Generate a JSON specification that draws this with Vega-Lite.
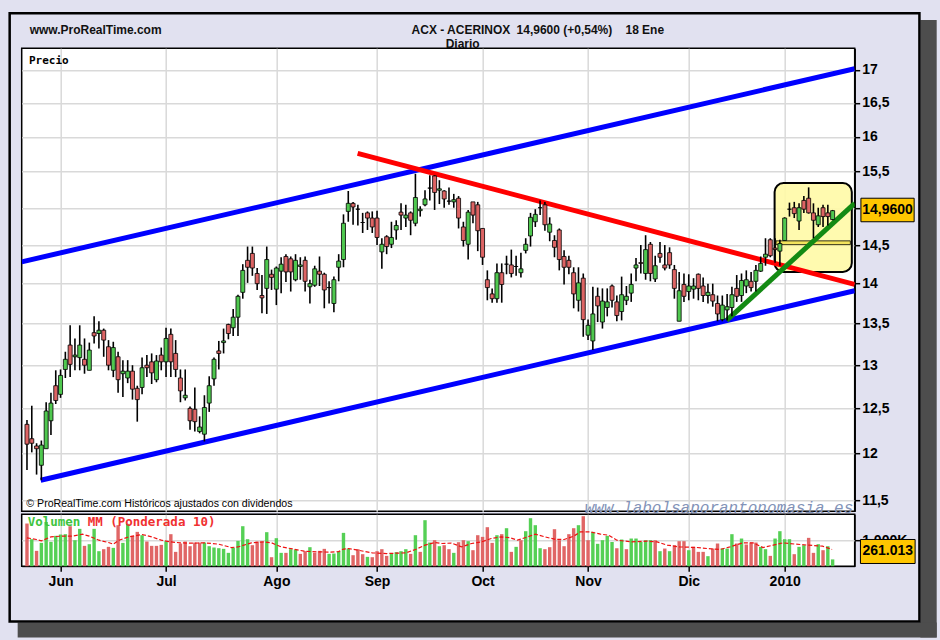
{
  "$schema": "https://vega.github.io/schema/vega-lite/v6.json",
  "autosize": {"type": "pad"},
  "padding": {"left": 6.7, "top": 11.2, "right": 5, "bottom": 3.5},
  "background": "#e1e1f0",
  "bounds": "flush",
  "spacing": 3,
  "datasets": {
    "candles": [
      {"i":0,"o":12.32,"h":12.37,"l":11.82,"c":12.10,"v":1641,"vd":"down"},
      {"i":1,"o":12.16,"h":12.53,"l":12.01,"c":12.11,"v":1038,"vd":"up"},
      {"i":2,"o":12.08,"h":12.11,"l":11.77,"c":12.05,"v":590,"vd":"down"},
      {"i":3,"o":11.87,"h":12.14,"l":11.71,"c":12.09,"v":897,"vd":"up"},
      {"i":4,"o":12.05,"h":12.57,"l":12.05,"c":12.47,"v":1700,"vd":"up"},
      {"i":5,"o":12.36,"h":12.68,"l":12.20,"c":12.56,"v":936,"vd":"up"},
      {"i":6,"o":12.76,"h":12.94,"l":12.55,"c":12.59,"v":1167,"vd":"up"},
      {"i":7,"o":12.66,"h":12.95,"l":12.62,"c":12.88,"v":1218,"vd":"up"},
      {"i":8,"o":12.95,"h":13.16,"l":12.85,"c":13.07,"v":1231,"vd":"up"},
      {"i":9,"o":13.24,"h":13.48,"l":12.86,"c":13.01,"v":1538,"vd":"down"},
      {"i":10,"o":13.10,"h":13.32,"l":12.94,"c":13.12,"v":1000,"vd":"up"},
      {"i":11,"o":13.09,"h":13.48,"l":12.94,"c":13.24,"v":1436,"vd":"up"},
      {"i":12,"o":13.07,"h":13.32,"l":12.90,"c":13.00,"v":782,"vd":"down"},
      {"i":13,"o":12.94,"h":13.27,"l":12.94,"c":13.18,"v":846,"vd":"up"},
      {"i":14,"o":13.39,"h":13.59,"l":13.26,"c":13.35,"v":1436,"vd":"up"},
      {"i":15,"o":13.38,"h":13.53,"l":13.20,"c":13.42,"v":577,"vd":"up"},
      {"i":16,"o":13.42,"h":13.44,"l":13.10,"c":13.30,"v":654,"vd":"down"},
      {"i":17,"o":13.22,"h":13.30,"l":12.94,"c":13.00,"v":744,"vd":"down"},
      {"i":18,"o":12.94,"h":13.28,"l":12.86,"c":13.21,"v":705,"vd":"up"},
      {"i":19,"o":13.10,"h":13.16,"l":12.68,"c":12.83,"v":1577,"vd":"down"},
      {"i":20,"o":12.90,"h":13.06,"l":12.63,"c":12.93,"v":897,"vd":"up"},
      {"i":21,"o":12.85,"h":13.06,"l":12.79,"c":12.93,"v":1628,"vd":"up"},
      {"i":22,"o":12.93,"h":13.00,"l":12.60,"c":12.72,"v":1167,"vd":"down"},
      {"i":23,"o":12.73,"h":12.76,"l":12.35,"c":12.60,"v":1320,"vd":"down"},
      {"i":24,"o":12.74,"h":13.09,"l":12.66,"c":12.97,"v":1192,"vd":"up"},
      {"i":25,"o":13.00,"h":13.12,"l":12.86,"c":12.97,"v":949,"vd":"down"},
      {"i":26,"o":13.04,"h":13.14,"l":12.78,"c":12.91,"v":782,"vd":"down"},
      {"i":27,"o":12.83,"h":13.12,"l":12.80,"c":13.05,"v":782,"vd":"down"},
      {"i":28,"o":13.12,"h":13.21,"l":12.94,"c":13.04,"v":820,"vd":"down"},
      {"i":29,"o":13.04,"h":13.45,"l":12.86,"c":13.32,"v":962,"vd":"up"},
      {"i":30,"o":13.37,"h":13.44,"l":12.86,"c":13.04,"v":1231,"vd":"down"},
      {"i":31,"o":13.14,"h":13.30,"l":12.86,"c":12.95,"v":551,"vd":"down"},
      {"i":32,"o":12.85,"h":12.95,"l":12.57,"c":12.70,"v":872,"vd":"down"},
      {"i":33,"o":12.62,"h":12.95,"l":12.59,"c":12.65,"v":949,"vd":"down"},
      {"i":34,"o":12.50,"h":12.52,"l":12.26,"c":12.36,"v":769,"vd":"down"},
      {"i":35,"o":12.49,"h":12.74,"l":12.24,"c":12.35,"v":910,"vd":"down"},
      {"i":36,"o":12.24,"h":12.41,"l":12.22,"c":12.29,"v":910,"vd":"down"},
      {"i":37,"o":12.21,"h":12.65,"l":12.13,"c":12.51,"v":910,"vd":"up"},
      {"i":38,"o":12.56,"h":12.87,"l":12.46,"c":12.76,"v":769,"vd":"up"},
      {"i":39,"o":12.84,"h":13.09,"l":12.76,"c":13.07,"v":718,"vd":"up"},
      {"i":40,"o":13.17,"h":13.29,"l":12.95,"c":13.14,"v":692,"vd":"up"},
      {"i":41,"o":13.27,"h":13.44,"l":13.14,"c":13.29,"v":667,"vd":"up"},
      {"i":42,"o":13.49,"h":13.50,"l":13.31,"c":13.38,"v":513,"vd":"up"},
      {"i":43,"o":13.45,"h":13.68,"l":13.35,"c":13.58,"v":705,"vd":"up"},
      {"i":44,"o":13.58,"h":13.86,"l":13.35,"c":13.84,"v":974,"vd":"up"},
      {"i":45,"o":13.89,"h":14.25,"l":13.81,"c":14.17,"v":1538,"vd":"up"},
      {"i":46,"o":14.30,"h":14.48,"l":14.01,"c":14.21,"v":1038,"vd":"up"},
      {"i":47,"o":14.39,"h":14.48,"l":14.10,"c":14.20,"v":808,"vd":"down"},
      {"i":48,"o":14.13,"h":14.20,"l":13.92,"c":14.00,"v":949,"vd":"down"},
      {"i":49,"o":13.85,"h":14.11,"l":13.63,"c":13.82,"v":949,"vd":"down"},
      {"i":50,"o":13.94,"h":14.48,"l":13.62,"c":14.31,"v":1308,"vd":"up"},
      {"i":51,"o":14.12,"h":14.18,"l":13.92,"c":14.08,"v":346,"vd":"down"},
      {"i":52,"o":13.93,"h":14.22,"l":13.73,"c":14.20,"v":1077,"vd":"up"},
      {"i":53,"o":14.16,"h":14.34,"l":13.88,"c":14.25,"v":513,"vd":"up"},
      {"i":54,"o":14.35,"h":14.38,"l":14.02,"c":14.15,"v":513,"vd":"down"},
      {"i":55,"o":14.32,"h":14.35,"l":13.90,"c":14.15,"v":654,"vd":"up"},
      {"i":56,"o":14.05,"h":14.38,"l":14.03,"c":14.30,"v":641,"vd":"up"},
      {"i":57,"o":14.22,"h":14.34,"l":14.05,"c":14.24,"v":474,"vd":"down"},
      {"i":58,"o":14.30,"h":14.35,"l":13.90,"c":14.03,"v":577,"vd":"down"},
      {"i":59,"o":13.96,"h":14.05,"l":13.75,"c":14.00,"v":731,"vd":"up"},
      {"i":60,"o":13.98,"h":14.23,"l":13.96,"c":14.19,"v":513,"vd":"down"},
      {"i":61,"o":14.16,"h":14.35,"l":13.97,"c":14.12,"v":590,"vd":"down"},
      {"i":62,"o":14.12,"h":14.14,"l":13.69,"c":13.92,"v":667,"vd":"down"},
      {"i":63,"o":13.95,"h":14.03,"l":13.75,"c":13.95,"v":474,"vd":"up"},
      {"i":64,"o":13.75,"h":14.09,"l":13.64,"c":14.05,"v":487,"vd":"up"},
      {"i":65,"o":14.21,"h":14.38,"l":14.03,"c":14.29,"v":577,"vd":"up"},
      {"i":66,"o":14.31,"h":14.91,"l":14.21,"c":14.79,"v":1282,"vd":"up"},
      {"i":67,"o":14.95,"h":15.23,"l":14.81,"c":15.06,"v":679,"vd":"up"},
      {"i":68,"o":15.06,"h":15.08,"l":14.77,"c":15.01,"v":423,"vd":"down"},
      {"i":69,"o":14.98,"h":15.04,"l":14.76,"c":14.98,"v":654,"vd":"down"},
      {"i":70,"o":14.80,"h":14.93,"l":14.66,"c":14.80,"v":462,"vd":"down"},
      {"i":71,"o":14.93,"h":14.95,"l":14.70,"c":14.86,"v":359,"vd":"up"},
      {"i":72,"o":14.86,"h":14.95,"l":14.66,"c":14.74,"v":346,"vd":"down"},
      {"i":73,"o":14.86,"h":14.96,"l":14.50,"c":14.60,"v":577,"vd":"down"},
      {"i":74,"o":14.41,"h":14.59,"l":14.19,"c":14.51,"v":654,"vd":"down"},
      {"i":75,"o":14.61,"h":14.63,"l":14.38,"c":14.48,"v":397,"vd":"down"},
      {"i":76,"o":14.51,"h":14.81,"l":14.46,"c":14.60,"v":500,"vd":"up"},
      {"i":77,"o":14.70,"h":14.83,"l":14.57,"c":14.76,"v":538,"vd":"up"},
      {"i":78,"o":14.94,"h":15.06,"l":14.70,"c":14.90,"v":577,"vd":"up"},
      {"i":79,"o":14.86,"h":15.04,"l":14.74,"c":14.90,"v":654,"vd":"up"},
      {"i":80,"o":14.93,"h":14.95,"l":14.63,"c":14.83,"v":474,"vd":"down"},
      {"i":81,"o":14.79,"h":15.47,"l":14.75,"c":15.14,"v":1192,"vd":"up"},
      {"i":82,"o":14.96,"h":15.02,"l":14.88,"c":14.98,"v":551,"vd":"down"},
      {"i":83,"o":15.04,"h":15.24,"l":15.02,"c":15.12,"v":1769,"vd":"up"},
      {"i":84,"o":15.27,"h":15.45,"l":15.10,"c":15.27,"v":910,"vd":"up"},
      {"i":85,"o":15.44,"h":15.45,"l":14.97,"c":15.21,"v":1000,"vd":"down"},
      {"i":86,"o":15.24,"h":15.38,"l":15.05,"c":15.26,"v":769,"vd":"up"},
      {"i":87,"o":15.23,"h":15.24,"l":15.00,"c":15.12,"v":808,"vd":"down"},
      {"i":88,"o":15.09,"h":15.28,"l":15.04,"c":15.09,"v":654,"vd":"down"},
      {"i":89,"o":15.08,"h":15.19,"l":15.00,"c":15.11,"v":513,"vd":"up"},
      {"i":90,"o":15.13,"h":15.16,"l":14.72,"c":14.86,"v":923,"vd":"down"},
      {"i":91,"o":14.74,"h":14.81,"l":14.48,"c":14.56,"v":1000,"vd":"down"},
      {"i":92,"o":14.51,"h":14.97,"l":14.31,"c":14.94,"v":962,"vd":"up"},
      {"i":93,"o":15.08,"h":15.08,"l":14.79,"c":14.90,"v":615,"vd":"down"},
      {"i":94,"o":15.04,"h":15.08,"l":14.42,"c":14.69,"v":1192,"vd":"down"},
      {"i":95,"o":14.72,"h":14.72,"l":14.24,"c":14.34,"v":1128,"vd":"down"},
      {"i":96,"o":14.05,"h":14.17,"l":13.79,"c":13.95,"v":1500,"vd":"down"},
      {"i":97,"o":13.87,"h":13.94,"l":13.76,"c":13.81,"v":897,"vd":"down"},
      {"i":98,"o":13.81,"h":14.26,"l":13.76,"c":14.14,"v":1192,"vd":"up"},
      {"i":99,"o":14.14,"h":14.26,"l":13.76,"c":13.99,"v":1231,"vd":"down"},
      {"i":100,"o":14.25,"h":14.36,"l":14.12,"c":14.25,"v":1461,"vd":"up"},
      {"i":101,"o":14.24,"h":14.44,"l":14.08,"c":14.13,"v":551,"vd":"down"},
      {"i":102,"o":14.22,"h":14.36,"l":14.10,"c":14.22,"v":744,"vd":"up"},
      {"i":103,"o":14.14,"h":14.40,"l":14.08,"c":14.19,"v":1000,"vd":"down"},
      {"i":104,"o":14.43,"h":14.59,"l":14.39,"c":14.51,"v":1346,"vd":"up"},
      {"i":105,"o":14.62,"h":14.93,"l":14.48,"c":14.87,"v":1846,"vd":"up"},
      {"i":106,"o":14.81,"h":14.98,"l":14.74,"c":14.91,"v":1577,"vd":"up"},
      {"i":107,"o":15.00,"h":15.10,"l":14.90,"c":15.00,"v":692,"vd":"up"},
      {"i":108,"o":15.04,"h":15.08,"l":14.69,"c":14.77,"v":654,"vd":"down"},
      {"i":109,"o":14.67,"h":14.87,"l":14.55,"c":14.78,"v":731,"vd":"down"},
      {"i":110,"o":14.56,"h":14.63,"l":14.34,"c":14.47,"v":1423,"vd":"down"},
      {"i":111,"o":14.70,"h":14.72,"l":14.17,"c":14.31,"v":1000,"vd":"down"},
      {"i":112,"o":14.35,"h":14.43,"l":13.99,"c":14.21,"v":769,"vd":"down"},
      {"i":113,"o":14.30,"h":14.36,"l":14.12,"c":14.21,"v":1231,"vd":"down"},
      {"i":114,"o":14.14,"h":14.21,"l":13.69,"c":13.87,"v":1461,"vd":"down"},
      {"i":115,"o":13.79,"h":14.21,"l":13.65,"c":14.01,"v":1577,"vd":"up"},
      {"i":116,"o":14.07,"h":14.13,"l":13.34,"c":13.55,"v":1923,"vd":"down"},
      {"i":117,"o":13.36,"h":13.55,"l":13.30,"c":13.48,"v":1000,"vd":"down"},
      {"i":118,"o":13.29,"h":13.96,"l":13.18,"c":13.62,"v":1320,"vd":"up"},
      {"i":119,"o":13.84,"h":13.95,"l":13.52,"c":13.72,"v":860,"vd":"up"},
      {"i":120,"o":13.52,"h":13.94,"l":13.44,"c":13.78,"v":1000,"vd":"up"},
      {"i":121,"o":13.70,"h":13.94,"l":13.59,"c":13.77,"v":1167,"vd":"up"},
      {"i":122,"o":13.97,"h":13.99,"l":13.70,"c":13.79,"v":930,"vd":"up"},
      {"i":123,"o":13.77,"h":13.85,"l":13.53,"c":13.60,"v":690,"vd":"down"},
      {"i":124,"o":13.65,"h":14.09,"l":13.54,"c":13.86,"v":1026,"vd":"up"},
      {"i":125,"o":13.79,"h":13.97,"l":13.73,"c":13.84,"v":654,"vd":"down"},
      {"i":126,"o":13.88,"h":14.13,"l":13.77,"c":13.99,"v":1064,"vd":"up"},
      {"i":127,"o":14.20,"h":14.33,"l":14.03,"c":14.24,"v":1064,"vd":"up"},
      {"i":128,"o":14.27,"h":14.50,"l":14.13,"c":14.26,"v":936,"vd":"up"},
      {"i":129,"o":14.13,"h":14.63,"l":14.05,"c":14.44,"v":1000,"vd":"up"},
      {"i":130,"o":14.51,"h":14.54,"l":14.03,"c":14.13,"v":1000,"vd":"up"},
      {"i":131,"o":14.06,"h":14.36,"l":14.02,"c":14.23,"v":1000,"vd":"down"},
      {"i":132,"o":14.39,"h":14.54,"l":14.27,"c":14.34,"v":577,"vd":"up"},
      {"i":133,"o":14.24,"h":14.50,"l":14.17,"c":14.20,"v":679,"vd":"down"},
      {"i":134,"o":14.40,"h":14.47,"l":14.19,"c":14.24,"v":577,"vd":"up"},
      {"i":135,"o":14.18,"h":14.24,"l":13.81,"c":13.94,"v":808,"vd":"down"},
      {"i":136,"o":13.53,"h":14.15,"l":13.53,"c":13.91,"v":962,"vd":"down"},
      {"i":137,"o":13.99,"h":14.13,"l":13.77,"c":13.84,"v":962,"vd":"down"},
      {"i":138,"o":13.90,"h":14.12,"l":13.79,"c":13.97,"v":615,"vd":"up"},
      {"i":139,"o":13.93,"h":14.07,"l":13.81,"c":13.97,"v":744,"vd":"down"},
      {"i":140,"o":14.12,"h":14.13,"l":13.79,"c":13.94,"v":551,"vd":"down"},
      {"i":141,"o":13.97,"h":14.08,"l":13.77,"c":13.85,"v":551,"vd":"down"},
      {"i":142,"o":13.85,"h":14.00,"l":13.75,"c":13.89,"v":385,"vd":"up"},
      {"i":143,"o":13.86,"h":14.00,"l":13.71,"c":13.78,"v":679,"vd":"down"},
      {"i":144,"o":13.75,"h":13.85,"l":13.53,"c":13.62,"v":872,"vd":"down"},
      {"i":145,"o":13.55,"h":13.85,"l":13.53,"c":13.73,"v":679,"vd":"up"},
      {"i":146,"o":13.67,"h":13.87,"l":13.54,"c":13.71,"v":679,"vd":"up"},
      {"i":147,"o":13.70,"h":13.96,"l":13.59,"c":13.86,"v":1231,"vd":"up"},
      {"i":148,"o":13.94,"h":14.11,"l":13.77,"c":13.84,"v":872,"vd":"down"},
      {"i":149,"o":13.85,"h":14.13,"l":13.77,"c":14.04,"v":1064,"vd":"up"},
      {"i":150,"o":13.97,"h":14.17,"l":13.88,"c":14.05,"v":833,"vd":"down"},
      {"i":151,"o":14.03,"h":14.15,"l":13.90,"c":13.95,"v":910,"vd":"down"},
      {"i":152,"o":14.03,"h":14.24,"l":13.90,"c":14.17,"v":910,"vd":"down"},
      {"i":153,"o":14.16,"h":14.35,"l":14.15,"c":14.26,"v":744,"vd":"up"},
      {"i":154,"o":14.34,"h":14.59,"l":14.23,"c":14.38,"v":654,"vd":"up"},
      {"i":155,"o":14.57,"h":14.59,"l":14.34,"c":14.36,"v":397,"vd":"down"},
      {"i":156,"o":14.46,"h":14.59,"l":14.27,"c":14.44,"v":1064,"vd":"up"},
      {"i":157,"o":14.42,"h":14.57,"l":14.23,"c":14.52,"v":1346,"vd":"up"},
      {"i":158,"o":14.56,"h":14.87,"l":14.56,"c":14.86,"v":1038,"vd":"up"},
      {"i":159,"o":14.98,"h":15.07,"l":14.88,"c":14.98,"v":1038,"vd":"up"},
      {"i":160,"o":15.00,"h":15.08,"l":14.86,"c":14.92,"v":462,"vd":"down"},
      {"i":161,"o":14.82,"h":15.06,"l":14.70,"c":15.00,"v":744,"vd":"up"},
      {"i":162,"o":15.10,"h":15.16,"l":14.93,"c":14.98,"v":808,"vd":"up"},
      {"i":163,"o":15.13,"h":15.28,"l":14.92,"c":14.93,"v":1090,"vd":"down"},
      {"i":164,"o":14.93,"h":15.06,"l":14.59,"c":14.83,"v":513,"vd":"down"},
      {"i":165,"o":14.77,"h":15.00,"l":14.74,"c":14.89,"v":846,"vd":"up"},
      {"i":166,"o":15.00,"h":15.04,"l":14.74,"c":14.88,"v":615,"vd":"down"},
      {"i":167,"o":14.93,"h":15.04,"l":14.76,"c":14.88,"v":769,"vd":"up"},
      {"i":168,"o":14.84,"h":14.97,"l":14.83,"c":14.96,"v":261,"vd":"up"}
    ],
    "lines": [
      {"g":"canal sup","i":-1.1,"p":14.28},{"g":"canal sup","i":172.6,"p":17.02},
      {"g":"canal inf","i":2.86,"p":11.71},{"g":"canal inf","i":172.6,"p":13.91},
      {"g":"bajista","i":68.95,"p":15.76},{"g":"bajista","i":172.6,"p":13.99},
      {"g":"alcista","i":145.9,"p":13.54},{"g":"alcista","i":172.6,"p":15.06}
    ],
    "ma": [
      {"i":0,"m":1090},{"i":2,"m":1026},{"i":3,"m":974},{"i":5,"m":1128},{"i":7,"m":1154},
      {"i":9.5,"m":1160},{"i":11.6,"m":1230},{"i":13,"m":1154},{"i":15,"m":1000},{"i":17,"m":910},
      {"i":18,"m":846},{"i":19.2,"m":1000},{"i":21.2,"m":1128},{"i":24,"m":1218},{"i":26,"m":1128},
      {"i":28,"m":1000},{"i":30,"m":936},{"i":32,"m":897},{"i":34,"m":885},{"i":37,"m":897},
      {"i":40,"m":846},{"i":42.6,"m":718},{"i":44,"m":740},{"i":46.8,"m":897},{"i":49.5,"m":936},
      {"i":51,"m":897},{"i":53,"m":744},{"i":55.7,"m":654},{"i":57.8,"m":577},{"i":60.6,"m":551},
      {"i":63.3,"m":540},{"i":65,"m":560},{"i":66,"m":660},{"i":67,"m":680},{"i":69,"m":615},
      {"i":72,"m":513},{"i":75,"m":487},{"i":79,"m":513},{"i":81,"m":641},{"i":83,"m":808},
      {"i":85,"m":910},{"i":86.5,"m":872},{"i":88.5,"m":890},{"i":90.6,"m":744},{"i":92.7,"m":872},
      {"i":94.8,"m":936},{"i":96.8,"m":1064},{"i":98.9,"m":1128},{"i":100.6,"m":1100},{"i":102.3,"m":1000},
      {"i":104.4,"m":1128},{"i":106,"m":1231},{"i":108,"m":1128},{"i":110,"m":1038},{"i":112,"m":1026},
      {"i":114,"m":1154},{"i":115.4,"m":1320},{"i":117.5,"m":1320},{"i":119.6,"m":1231},{"i":121.3,"m":1192},
      {"i":123,"m":1000},{"i":126,"m":936},{"i":129.3,"m":962},{"i":131.4,"m":936},{"i":133.5,"m":808},
      {"i":136,"m":744},{"i":139.7,"m":718},{"i":141.8,"m":679},{"i":144.5,"m":641},{"i":146.6,"m":744},
      {"i":149.3,"m":897},{"i":151.4,"m":897},{"i":153.5,"m":718},{"i":155.6,"m":808},{"i":157.6,"m":897},
      {"i":160.4,"m":846},{"i":163,"m":808},{"i":165.9,"m":769},{"i":167.9,"m":641}
    ]
  },
  "vconcat": [
    {
      "width": 833,
      "height": 463,
      "layer": [
        {
          "data": {"values": [{}]},
          "mark": {"type": "rect", "fill": "#4d4d4d"},
          "encoding": {
            "x": {"datum": 186.3, "type": "quantitative", "scale": {"domain": [-1.1, 172.6], "nice": false, "zero": false, "padding": 0}},
            "x2": {"datum": 189.7},
            "y": {"datum": 17.79, "type": "quantitative", "scale": {"type": "log", "domain": [11.385, 17.34], "nice": false}},
            "y2": {"datum": 10.15}
          }
        },
        {
          "data": {"values": [{}]},
          "mark": {"type": "rect", "fill": "#4d4d4d"},
          "encoding": {
            "x": {"datum": -1.94, "type": "quantitative"},
            "x2": {"datum": 189.7},
            "y": {"datum": 10.29, "type": "quantitative"},
            "y2": {"datum": 10.15}
          }
        },
        {
          "data": {"values": [{}]},
          "mark": {"type": "rect", "filled": false, "stroke": "black", "strokeWidth": 2.5},
          "encoding": {
            "x": {"datum": -3.61, "type": "quantitative"},
            "x2": {"datum": 186.1},
            "y": {"datum": 17.9, "type": "quantitative"},
            "y2": {"datum": 10.3}
          }
        },
        {
          "data": {"values": [{}]},
          "mark": {"type": "rect", "fill": "#fff9a6", "fillOpacity": 0.9, "stroke": "black", "strokeWidth": 2, "cornerRadius": 9},
          "encoding": {
            "x": {"datum": 155.9, "type": "quantitative"},
            "x2": {"datum": 172.0},
            "y": {"datum": 15.34, "type": "quantitative"},
            "y2": {"datum": 14.15}
          }
        },
        {
          "data": {"values": [{}]},
          "mark": {"type": "rect", "fill": "#f3e35c", "stroke": "black", "strokeWidth": 0.8},
          "encoding": {
            "x": {"datum": 156.2, "type": "quantitative"},
            "x2": {"datum": 171.7},
            "y": {"datum": 14.555, "type": "quantitative"},
            "y2": {"datum": 14.505}
          }
        },
        {
          "data": {"name": "lines"},
          "mark": {"type": "line", "clip": true, "strokeCap": "butt"},
          "encoding": {
            "x": {"field": "i", "type": "quantitative"},
            "y": {"field": "p", "type": "quantitative"},
            "color": {"field": "g", "type": "nominal", "legend": null,
              "scale": {"domain": ["canal sup", "canal inf", "bajista", "alcista"], "range": ["#0000ff", "#0000ff", "#ff0000", "#138a13"]}},
            "strokeWidth": {"field": "g", "type": "nominal", "legend": null,
              "scale": {"domain": ["canal sup", "canal inf", "bajista", "alcista"], "range": [5, 5, 5, 3]}}
          }
        },
        {
          "data": {"name": "candles"},
          "mark": {"type": "rule", "color": "black", "strokeWidth": 1.6},
          "encoding": {
            "x": {"field": "i", "type": "quantitative",
              "axis": {"values": [7, 29, 52, 73, 95, 117, 138, 158], "grid": true, "gridColor": "#d9d9d9", "gridWidth": 1.5, "labels": false, "ticks": false, "domain": false, "title": null}},
            "y": {"field": "l", "type": "quantitative",
              "axis": {"orient": "right", "values": [11.5, 12, 12.5, 13, 13.5, 14, 14.5, 15, 15.5, 16, 16.5, 17],
                "labelExpr": "replace(format(datum.value, '.1~f'), '.', ',')",
                "grid": true, "gridColor": "#d9d9d9", "gridWidth": 1.5, "tickColor": "black", "tickSize": 5, "tickWidth": 1.5,
                "domainColor": "black", "domainWidth": 1.5, "labelFont": "Liberation Sans", "labelFontWeight": "bold",
                "labelFontSize": 14, "labelColor": "black", "labelPadding": 2, "labelOverlap": false, "labelFlush": false, "title": null}},
            "y2": {"field": "h"}
          }
        },
        {
          "data": {"name": "candles"},
          "mark": {"type": "bar", "size": 4, "stroke": "black", "strokeWidth": 0.8},
          "encoding": {
            "x": {"field": "i", "type": "quantitative"},
            "y": {"field": "o", "type": "quantitative"},
            "y2": {"field": "c"},
            "color": {"condition": {"test": "datum.c >= datum.o", "value": "#4fc84f"}, "value": "#dd6464"}
          }
        },
        {
          "data": {"values": [{}]},
          "mark": {"type": "text", "align": "left", "baseline": "middle", "font": "Liberation Sans", "fontWeight": "bold", "fontSize": 12, "color": "#111111"},
          "encoding": {"x": {"datum": 0.56, "type": "quantitative"}, "y": {"datum": 17.63, "type": "quantitative"}, "text": {"value": "www.ProRealTime.com"}}
        },
        {
          "data": {"values": [{}]},
          "mark": {"type": "text", "align": "left", "baseline": "middle", "font": "Liberation Sans", "fontWeight": "bold", "fontSize": 12, "color": "#111111"},
          "encoding": {"x": {"datum": 80.2, "type": "quantitative"}, "y": {"datum": 17.63, "type": "quantitative"}, "text": {"value": "ACX - ACERINOX"}}
        },
        {
          "data": {"values": [{}]},
          "mark": {"type": "text", "align": "left", "baseline": "middle", "font": "Liberation Sans", "fontWeight": "bold", "fontSize": 12, "color": "#111111"},
          "encoding": {"x": {"datum": 102.1, "type": "quantitative"}, "y": {"datum": 17.63, "type": "quantitative"}, "text": {"value": "14,9600 (+0,54%)"}}
        },
        {
          "data": {"values": [{}]},
          "mark": {"type": "text", "align": "left", "baseline": "middle", "font": "Liberation Sans", "fontWeight": "bold", "fontSize": 12, "color": "#111111"},
          "encoding": {"x": {"datum": 124.8, "type": "quantitative"}, "y": {"datum": 17.63, "type": "quantitative"}, "text": {"value": "18 Ene"}}
        },
        {
          "data": {"values": [{}]},
          "mark": {"type": "text", "align": "center", "baseline": "middle", "font": "Liberation Sans", "fontWeight": "bold", "fontSize": 12, "color": "#111111"},
          "encoding": {"x": {"datum": 90.85, "type": "quantitative"}, "y": {"datum": 17.41, "type": "quantitative"}, "text": {"value": "Diario"}}
        },
        {
          "data": {"values": [{}]},
          "mark": {"type": "text", "align": "left", "baseline": "middle", "font": "DejaVu Sans Mono", "fontWeight": "bold", "fontSize": 11, "color": "black"},
          "encoding": {"x": {"datum": 0.42, "type": "quantitative"}, "y": {"datum": 17.14, "type": "quantitative"}, "text": {"value": "Precio"}}
        },
        {
          "data": {"values": [{}]},
          "mark": {"type": "text", "align": "left", "baseline": "middle", "font": "Liberation Sans", "fontSize": 10.6, "color": "black"},
          "encoding": {"x": {"datum": -0.13, "type": "quantitative"}, "y": {"datum": 11.46, "type": "quantitative"}, "text": {"value": "© ProRealTime.com  Históricos ajustados con dividendos"}}
        },
        {
          "data": {"values": [{}]},
          "mark": {"type": "text", "align": "left", "baseline": "middle", "font": "Liberation Mono", "fontStyle": "italic", "fontSize": 16, "color": "#8393b8"},
          "encoding": {"x": {"datum": 116.3, "type": "quantitative"}, "y": {"datum": 11.42, "type": "quantitative"}, "text": {"value": "www.labolsaporantonomasia.es"}}
        },
        {
          "data": {"values": [{}]},
          "mark": {"type": "rect", "fill": "#ffc600", "stroke": "black", "strokeWidth": 1},
          "encoding": {
            "x": {"datum": 173.9, "type": "quantitative"},
            "x2": {"datum": 185.0},
            "y": {"datum": 15.13, "type": "quantitative"},
            "y2": {"datum": 14.81}
          }
        },
        {
          "data": {"values": [{}]},
          "mark": {"type": "text", "align": "center", "baseline": "middle", "font": "Liberation Sans", "fontWeight": "bold", "fontSize": 14, "color": "black"},
          "encoding": {"x": {"datum": 179.45, "type": "quantitative"}, "y": {"datum": 14.97, "type": "quantitative"}, "text": {"value": "14,9600"}}
        }
      ]
    },
    {
      "width": 833,
      "height": 52,
      "layer": [
        {
          "data": {"name": "candles"},
          "mark": {"type": "bar", "size": 3.4},
          "encoding": {
            "x": {"field": "i", "type": "quantitative",
              "scale": {"domain": [-1.1, 172.6], "nice": false, "zero": false, "padding": 0},
              "axis": {"values": [7, 29, 52, 73, 95, 117, 138, 158],
                "labelExpr": "['Jun','Jul','Ago','Sep','Oct','Nov','Dic','2010'][indexof([7,29,52,73,95,117,138,158], datum.value)]",
                "grid": true, "gridColor": "#d9d9d9", "gridWidth": 1.5, "tickColor": "black", "tickSize": 5, "tickWidth": 1.5,
                "domainColor": "black", "labelFont": "Liberation Sans", "labelFontWeight": "bold", "labelFontSize": 14,
                "labelColor": "black", "labelPadding": 3, "labelFlush": false, "labelOverlap": false, "title": null}},
            "y": {"field": "v", "type": "quantitative",
              "scale": {"domain": [0, 2000], "nice": false},
              "axis": {"orient": "right", "values": [1000], "labelExpr": "'1.000K'", "grid": true, "gridColor": "#d9d9d9", "gridWidth": 1.5,
                "tickColor": "black", "tickSize": 5, "tickWidth": 1.5, "domainColor": "black", "labelFont": "Liberation Sans",
                "labelFontWeight": "bold", "labelFontSize": 14, "labelColor": "black", "labelPadding": 2, "title": null}},
            "color": {"condition": {"test": "datum.vd == 'up'", "value": "#55d055"}, "value": "#e06666"}
          }
        },
        {
          "data": {"name": "ma"},
          "mark": {"type": "line", "color": "#ee1111", "strokeWidth": 1.2, "strokeDash": [4, 2]},
          "encoding": {
            "x": {"field": "i", "type": "quantitative"},
            "y": {"field": "m", "type": "quantitative"}
          }
        },
        {
          "data": {"values": [{}]},
          "mark": {"type": "text", "align": "left", "baseline": "middle", "font": "DejaVu Sans Mono", "fontWeight": "bold", "fontSize": 12.5, "color": "#3ec43e"},
          "encoding": {"x": {"datum": 0.15, "type": "quantitative"}, "y": {"datum": 1681, "type": "quantitative"}, "text": {"value": "Volumen"}}
        },
        {
          "data": {"values": [{}]},
          "mark": {"type": "text", "align": "left", "baseline": "middle", "font": "DejaVu Sans Mono", "fontWeight": "bold", "fontSize": 12.5, "color": "#f03030"},
          "encoding": {"x": {"datum": 12.66, "type": "quantitative"}, "y": {"datum": 1681, "type": "quantitative"}, "text": {"value": "MM (Ponderada 10)"}}
        },
        {
          "data": {"values": [{}]},
          "mark": {"type": "rect", "fill": "#ffc600", "stroke": "black", "strokeWidth": 1},
          "encoding": {
            "x": {"datum": 173.8, "type": "quantitative"},
            "x2": {"datum": 185.2},
            "y": {"datum": 1027, "type": "quantitative"},
            "y2": {"datum": 104}
          }
        },
        {
          "data": {"values": [{}]},
          "mark": {"type": "text", "align": "center", "baseline": "middle", "font": "Liberation Sans", "fontWeight": "bold", "fontSize": 14, "color": "black"},
          "encoding": {"x": {"datum": 179.5, "type": "quantitative"}, "y": {"datum": 565, "type": "quantitative"}, "text": {"value": "261.013"}}
        }
      ]
    }
  ],
  "config": {
    "view": {"fill": "white", "stroke": "black", "strokeWidth": 1.5}
  }
}
